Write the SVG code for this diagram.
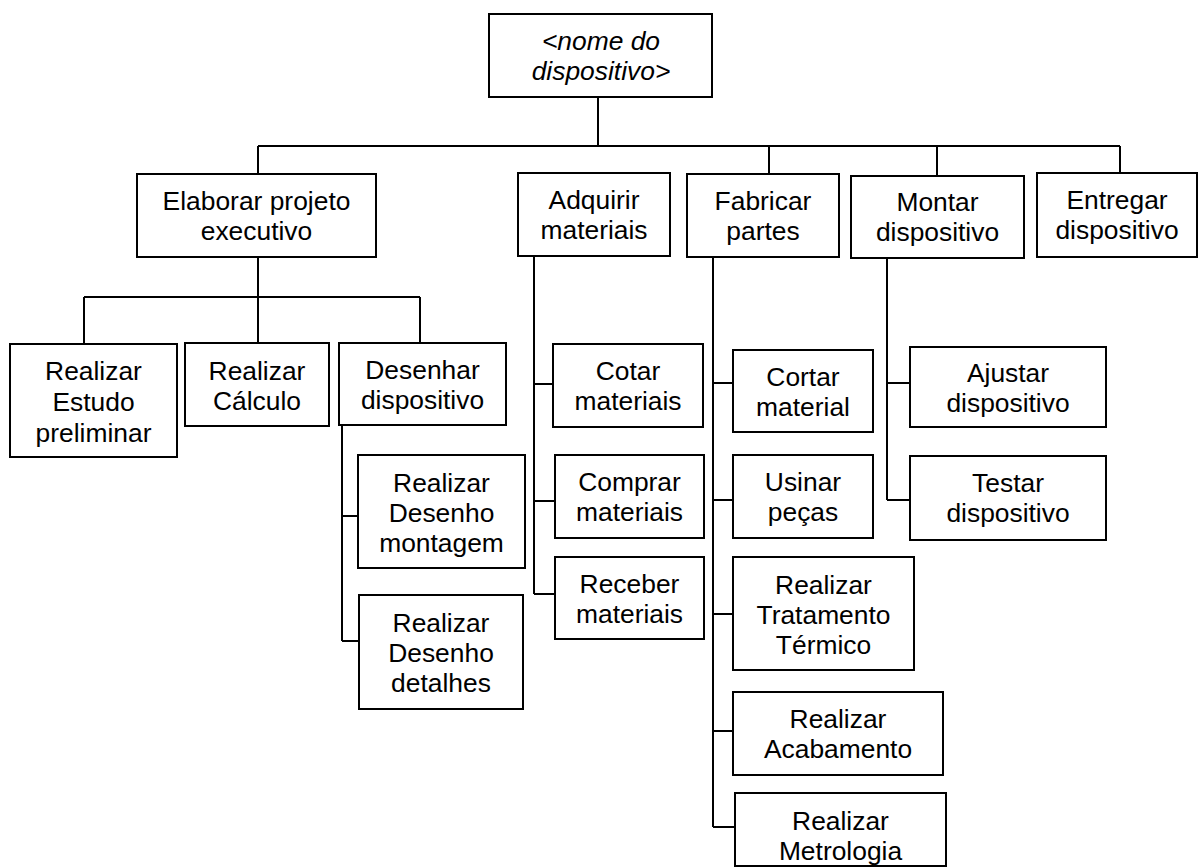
<svg xmlns="http://www.w3.org/2000/svg" width="1199" height="868" viewBox="0 0 1199 868">
<style>
rect{fill:#fff;stroke:#000;stroke-width:2}
text{font-family:"Liberation Sans",Arial,sans-serif;font-size:26.4px;fill:#000;text-anchor:middle}
.it{font-style:italic}
#connectors path{fill:none;stroke:#000;stroke-width:2}
</style>
<rect x="0" y="0" width="1199" height="868" style="stroke:none"/>
<g id="connectors">
<path d="M598 97V146M258 146H1120M258 146V174M769 146V174M937 146V176M1120 146V173"/>
<path d="M258 257V297M84 297H420M84 297V344M258 297V343M420 297V343"/>
<path d="M342 425V641M342 516H358M342 641H359"/>
<path d="M534 256V594M534 384H553M534 501H555M534 594H555"/>
<path d="M713 257V827M713 383H733M713 500H733M713 614H733M713 731H733M713 827H735"/>
<path d="M887 258V500M887 383H910M887 500H910"/>
</g>
<g id="root"><rect x="489" y="14" width="223" height="83"/><text class="it" x="601" y="50">&lt;nome do</text><text class="it" x="601" y="80">dispositivo&gt;</text></g>
<g id="elaborar"><rect x="137" y="174" width="239" height="83"/><text x="256.5" y="210">Elaborar projeto</text><text x="256.5" y="240">executivo</text></g>
<g id="adquirir"><rect x="518" y="173" width="152" height="83"/><text x="594" y="209">Adquirir</text><text x="594" y="239">materiais</text></g>
<g id="fabricar"><rect x="687" y="174" width="152" height="83"/><text x="763" y="210">Fabricar</text><text x="763" y="240">partes</text></g>
<g id="montar"><rect x="851" y="176" width="173" height="82"/><text x="937.5" y="211">Montar</text><text x="937.5" y="241">dispositivo</text></g>
<g id="entregar"><rect x="1037" y="173" width="160" height="84"/><text x="1117" y="209">Entregar</text><text x="1117" y="239">dispositivo</text></g>
<g id="estudo"><rect x="10" y="344" width="167" height="113"/><text x="93.5" y="380">Realizar</text><text x="93.5" y="411">Estudo</text><text x="93.5" y="442">preliminar</text></g>
<g id="calculo"><rect x="185" y="343" width="144" height="83"/><text x="257" y="380">Realizar</text><text x="257" y="410">Cálculo</text></g>
<g id="desenhar"><rect x="339" y="343" width="167" height="82"/><text x="422.5" y="379">Desenhar</text><text x="422.5" y="409">dispositivo</text></g>
<g id="montagem"><rect x="358" y="455" width="167" height="113"/><text x="441.5" y="492">Realizar</text><text x="441.5" y="522">Desenho</text><text x="441.5" y="552">montagem</text></g>
<g id="detalhes"><rect x="359" y="595" width="164" height="114"/><text x="441" y="632">Realizar</text><text x="441" y="662">Desenho</text><text x="441" y="692">detalhes</text></g>
<g id="cotar"><rect x="553" y="344" width="150" height="83"/><text x="628" y="380">Cotar</text><text x="628" y="410">materiais</text></g>
<g id="comprar"><rect x="555" y="455" width="149" height="83"/><text x="629.5" y="491">Comprar</text><text x="629.5" y="521">materiais</text></g>
<g id="receber"><rect x="555" y="557" width="149" height="82"/><text x="629.5" y="593">Receber</text><text x="629.5" y="623">materiais</text></g>
<g id="cortar"><rect x="733" y="350" width="140" height="82"/><text x="803" y="386">Cortar</text><text x="803" y="416">material</text></g>
<g id="usinar"><rect x="733" y="455" width="140" height="83"/><text x="803" y="491">Usinar</text><text x="803" y="521">peças</text></g>
<g id="tratamento"><rect x="733" y="557" width="181" height="113"/><text x="823.5" y="594">Realizar</text><text x="823.5" y="624">Tratamento</text><text x="823.5" y="654">Térmico</text></g>
<g id="acabamento"><rect x="733" y="692" width="210" height="83"/><text x="838" y="728">Realizar</text><text x="838" y="758">Acabamento</text></g>
<g id="metrologia"><rect x="735" y="793" width="211" height="73"/><text x="840.5" y="830">Realizar</text><text x="840.5" y="860">Metrologia</text></g>
<g id="ajustar"><rect x="910" y="347" width="196" height="80"/><text x="1008" y="382">Ajustar</text><text x="1008" y="412">dispositivo</text></g>
<g id="testar"><rect x="910" y="456" width="196" height="84"/><text x="1008" y="492">Testar</text><text x="1008" y="522">dispositivo</text></g>
</svg>
